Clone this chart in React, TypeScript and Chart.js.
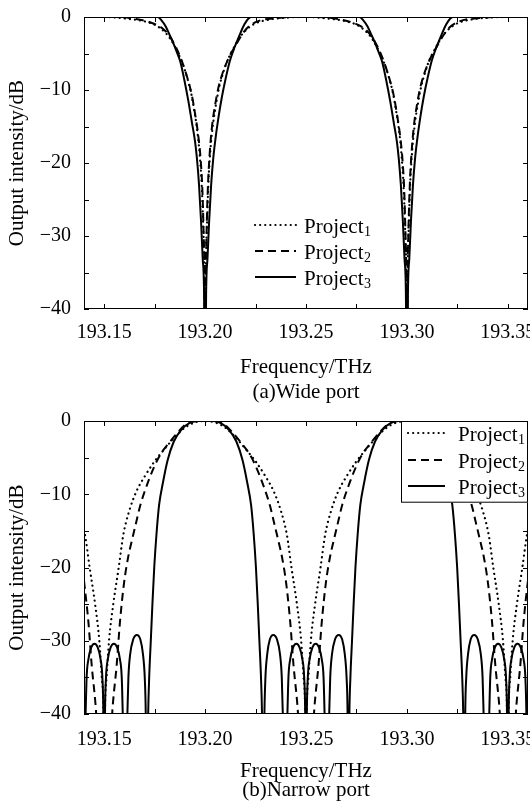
import { useEffect, useRef } from 'react';
import { Chart, registerables } from 'chart.js';

Chart.register(...registerables);

const FONT = "'Liberation Serif', 'Times New Roman', Times, serif";
Chart.defaults.font.family = FONT;
Chart.defaults.color = '#000';

type Pt = [number, number];

// ---------- axes ----------
const X_MIN = 193.14;
const X_MAX = 193.36;
const X_TICKS = [193.15, 193.175, 193.2, 193.225, 193.25, 193.275, 193.3, 193.325, 193.35];
const X_TICK_LABELS = ['193.15', '', '193.20', '', '193.25', '', '193.30', '', '193.35'];
const Y_TICKS = [-40, -35, -30, -25, -20, -15, -10, -5, 0];
const Y_TICK_LABELS = ['\u221240', '', '\u221230', '', '\u221220', '', '\u221210', '', '0'];
const SERIES_LABELS = ['Project1', 'Project2', 'Project3'];

// ---------- (a) Wide port ----------
const wideP1: Pt[] = [
  [193.14, 0], [193.15, 0], [193.16, -0.2], [193.17, -0.6], [193.176, -1.2], [193.1805, -2.2], [193.1835, -3.3],
  [193.1865, -4.9], [193.189, -6.5], [193.191, -8.2], [193.193, -10.3], [193.1945, -12.6], [193.196, -15.3],
  [193.1973, -18.8], [193.1984, -23.5], [193.1991, -29], [193.1996, -35], [193.2, -55], [193.2004, -35],
  [193.2009, -29], [193.2016, -23], [193.2027, -18], [193.204, -14.5], [193.2055, -11.8], [193.207, -9.6],
  [193.209, -7.6], [193.211, -6], [193.2135, -4.6], [193.2165, -3.1], [193.2195, -2], [193.224, -1],
  [193.23, -0.45], [193.24, -0.1], [193.25, 0],
  [193.26, -0.2], [193.27, -0.6], [193.276, -1.2], [193.2805, -2.2], [193.2835, -3.3],
  [193.2865, -4.9], [193.289, -6.5], [193.291, -8.2], [193.293, -10.3], [193.2945, -12.6], [193.296, -15.3],
  [193.2973, -18.8], [193.2984, -23.5], [193.2991, -29], [193.2996, -35], [193.3, -55], [193.3004, -35],
  [193.3009, -29], [193.3016, -23], [193.3027, -18], [193.304, -14.5], [193.3055, -11.8], [193.307, -9.6],
  [193.309, -7.6], [193.311, -6], [193.3135, -4.6], [193.3165, -3.1], [193.3195, -2], [193.324, -1],
  [193.33, -0.45], [193.34, -0.1], [193.35, 0], [193.36, 0],
];

const wideP2: Pt[] = [
  [193.14, 0], [193.155, 0], [193.164, -0.2], [193.174, -0.85], [193.1795, -1.7], [193.1826, -2.7],
  [193.1855, -4.1], [193.1876, -5.4], [193.1897, -7], [193.1917, -8.8], [193.1935, -10.8], [193.195, -13.2],
  [193.1965, -16], [193.1978, -19.5], [193.1987, -24], [193.1993, -30], [193.1997, -36], [193.2, -55],
  [193.2003, -36], [193.2007, -30], [193.2013, -24], [193.2022, -19], [193.2035, -14.8], [193.205, -12],
  [193.2065, -9.8], [193.2083, -8], [193.2103, -6.5], [193.2124, -5.2], [193.2145, -4.2], [193.2174, -2.8],
  [193.2205, -1.6], [193.226, -0.6], [193.236, -0.15], [193.245, 0],
  [193.255, 0], [193.264, -0.2], [193.274, -0.85], [193.2795, -1.7], [193.2826, -2.7],
  [193.2855, -4.1], [193.2876, -5.4], [193.2897, -7], [193.2917, -8.8], [193.2935, -10.8], [193.295, -13.2],
  [193.2965, -16], [193.2978, -19.5], [193.2987, -24], [193.2993, -30], [193.2997, -36], [193.3, -55],
  [193.3003, -36], [193.3007, -30], [193.3013, -24], [193.3022, -19], [193.3035, -14.8], [193.305, -12],
  [193.3065, -9.8], [193.3083, -8], [193.3103, -6.5], [193.3124, -5.2], [193.3145, -4.2], [193.3174, -2.8],
  [193.3205, -1.6], [193.326, -0.6], [193.336, -0.15], [193.345, 0], [193.36, 0],
];

const wideP3: Pt[] = [
  [193.14, 0], [193.1765, 0], [193.1785, -0.5], [193.1805, -1.3], [193.1825, -2.5], [193.1843, -3.6],
  [193.186, -4.8], [193.1877, -6.1], [193.1897, -8.6], [193.1917, -11.5], [193.1935, -14.5], [193.195, -17],
  [193.196, -19.5], [193.197, -23], [193.198, -28], [193.1988, -33], [193.1995, -38], [193.2, -55],
  [193.2005, -38], [193.2012, -33], [193.202, -28], [193.203, -23], [193.204, -19.5], [193.205, -17],
  [193.2065, -14], [193.2083, -11], [193.2103, -8.3], [193.2123, -6], [193.214, -4.6], [193.2157, -3.4],
  [193.2175, -2.2], [193.2195, -1], [193.2215, -0.2], [193.223, 0],
  [193.2765, 0], [193.2785, -0.5], [193.2805, -1.3], [193.2825, -2.5], [193.2843, -3.6],
  [193.286, -4.8], [193.2877, -6.1], [193.2897, -8.6], [193.2917, -11.5], [193.2935, -14.5], [193.295, -17],
  [193.296, -19.5], [193.297, -23], [193.298, -28], [193.2988, -33], [193.2995, -38], [193.3, -55],
  [193.3005, -38], [193.3012, -33], [193.302, -28], [193.303, -23], [193.304, -19.5], [193.305, -17],
  [193.3065, -14], [193.3083, -11], [193.3103, -8.3], [193.3123, -6], [193.314, -4.6], [193.3157, -3.4],
  [193.3175, -2.2], [193.3195, -1], [193.3215, -0.2], [193.323, 0], [193.36, 0],
];

// ---------- (b) Narrow port ----------
const narrowP1: Pt[] = [
  [193.14, -14.9], [193.1405, -15.5], [193.1428, -20], [193.1455, -25], [193.1476, -30], [193.1488, -35],
  [193.1496, -40], [193.15, -55], [193.1504, -40], [193.1512, -35], [193.1524, -30], [193.1545, -25],
  [193.1572, -20], [193.1595, -15.5], [193.1625, -12.2], [193.166, -9.6], [193.17, -7.6], [193.175, -5.5],
  [193.18, -3.8], [193.185, -2.2], [193.19, -0.9], [193.195, -0.2], [193.2, 0], [193.205, -0.2],
  [193.21, -0.9], [193.215, -2.2], [193.22, -3.8], [193.225, -5.5], [193.23, -7.6], [193.234, -9.6],
  [193.2375, -12.2], [193.2405, -15.5], [193.2428, -20], [193.2455, -25], [193.2476, -30], [193.2488, -35],
  [193.2496, -40], [193.25, -55], [193.2504, -40], [193.2512, -35], [193.2524, -30], [193.2545, -25],
  [193.2572, -20], [193.2595, -15.5], [193.2625, -12.2], [193.266, -9.6], [193.27, -7.6], [193.275, -5.5],
  [193.28, -3.8], [193.285, -2.2], [193.29, -0.9], [193.295, -0.2], [193.3, 0], [193.305, -0.2],
  [193.31, -0.9], [193.315, -2.2], [193.32, -3.8], [193.325, -5.5], [193.33, -7.6], [193.334, -9.6],
  [193.3375, -12.2], [193.3405, -15.5], [193.3428, -20], [193.3455, -25], [193.3476, -30], [193.3488, -35],
  [193.3496, -40], [193.35, -55], [193.3504, -40], [193.3512, -35], [193.3524, -30], [193.3545, -25],
  [193.3572, -20], [193.3595, -15.5], [193.36, -14.9],
];

const narrowP2: Pt[] = [
  [193.14, -21.8], [193.1422, -27.5], [193.1438, -33.3], [193.1458, -39], [193.1465, -42], [193.15, -55],
  [193.1535, -42], [193.1542, -39], [193.1562, -33.3], [193.1578, -27.5], [193.1598, -22.2], [193.1618, -18.7],
  [193.164, -16], [193.1659, -13.8], [193.1678, -11.6], [193.1706, -9.2], [193.1747, -6.3], [193.178, -4.5],
  [193.1821, -3], [193.1863, -1.6], [193.1912, -0.3], [193.196, 0], [193.204, 0], [193.2088, -0.3],
  [193.2137, -1.6], [193.2179, -3], [193.222, -4.5], [193.2253, -6.3], [193.2294, -9.2], [193.2322, -11.6],
  [193.2341, -13.8], [193.236, -16], [193.2382, -18.7], [193.2402, -22.2], [193.2422, -27.5], [193.2438, -33.3],
  [193.2458, -39], [193.2465, -42], [193.25, -55], [193.2535, -42], [193.2542, -39], [193.2562, -33.3],
  [193.2578, -27.5], [193.2598, -22.2], [193.2618, -18.7], [193.264, -16], [193.2659, -13.8], [193.2678, -11.6],
  [193.2706, -9.2], [193.2747, -6.3], [193.278, -4.5], [193.2821, -3], [193.2863, -1.6], [193.2912, -0.3],
  [193.296, 0], [193.304, 0], [193.3088, -0.3], [193.3137, -1.6], [193.3179, -3], [193.322, -4.5],
  [193.3253, -6.3], [193.3294, -9.2], [193.3322, -11.6], [193.3341, -13.8], [193.336, -16], [193.3382, -18.7],
  [193.3402, -22.2], [193.3422, -27.5], [193.3438, -33.3], [193.3458, -39], [193.3465, -42], [193.35, -55],
  [193.3535, -42], [193.3542, -39], [193.3562, -33.3], [193.3578, -27.5], [193.3598, -22.2], [193.36, -21.8],
];

const narrowP3: Pt[] = [
  [193.14, -50],
  [193.1408, -40], [193.1413, -35], [193.1422, -32.5], [193.1436, -30.9], [193.1452, -30.4], [193.1468, -30.9],
  [193.1482, -32.5], [193.1491, -35], [193.1496, -40], [193.15, -55],
  [193.1504, -40], [193.1509, -35], [193.1518, -32.5], [193.1532, -30.9], [193.1548, -30.4], [193.1564, -30.9],
  [193.1578, -32.5], [193.1587, -35], [193.1592, -40], [193.1603, -55],
  [193.1615, -40], [193.162, -35], [193.1629, -31.8], [193.1644, -29.8], [193.1662, -29.2], [193.1679, -29.8],
  [193.1692, -31.8], [193.1701, -35], [193.1706, -40], [193.1711, -55],
  [193.1718, -40], [193.1723, -35], [193.1731, -30], [193.1739, -25], [193.1748, -20], [193.1759, -15.5],
  [193.1772, -11.5], [193.1792, -8.3], [193.1814, -5.4], [193.1845, -2.8], [193.1882, -1.2], [193.1922, -0.3],
  [193.196, 0], [193.204, 0], [193.2078, -0.3], [193.2118, -1.2], [193.2155, -2.8], [193.2186, -5.4],
  [193.2208, -8.3], [193.2228, -11.5], [193.2241, -15.5], [193.2252, -20], [193.2261, -25], [193.2269, -30],
  [193.2277, -35], [193.2282, -40], [193.2288, -55],
  [193.2294, -40], [193.2299, -35], [193.2308, -31.8], [193.2321, -29.8], [193.2338, -29.2], [193.2356, -29.8],
  [193.2371, -31.8], [193.238, -35], [193.2385, -40], [193.2397, -55],
  [193.2408, -40], [193.2413, -35], [193.2422, -32.5], [193.2436, -30.9], [193.2452, -30.4], [193.2468, -30.9],
  [193.2482, -32.5], [193.2491, -35], [193.2496, -40], [193.25, -55],
  [193.2504, -40], [193.2509, -35], [193.2518, -32.5], [193.2532, -30.9], [193.2548, -30.4], [193.2564, -30.9],
  [193.2578, -32.5], [193.2587, -35], [193.2592, -40], [193.2603, -55],
  [193.2615, -40], [193.262, -35], [193.2629, -31.8], [193.2644, -29.8], [193.2662, -29.2], [193.2679, -29.8],
  [193.2692, -31.8], [193.2701, -35], [193.2706, -40], [193.271, -55],
  [193.2715, -40], [193.272, -35], [193.2728, -30], [193.2736, -25], [193.2745, -20], [193.2756, -15.5],
  [193.2769, -11.5], [193.2789, -8.3], [193.2811, -5.4], [193.2842, -2.8], [193.2879, -1.2], [193.2919, -0.3],
  [193.2957, 0], [193.3037, 0], [193.3075, -0.3], [193.3115, -1.2], [193.3152, -2.8], [193.3183, -5.4],
  [193.3205, -8.3], [193.3225, -11.5], [193.3238, -15.5], [193.3249, -20], [193.3258, -25], [193.3266, -30],
  [193.3274, -35], [193.3279, -40], [193.3285, -55],
  [193.3289, -40], [193.3294, -35], [193.3303, -31.8], [193.3316, -29.8], [193.3333, -29.2], [193.3351, -29.8],
  [193.3366, -31.8], [193.3375, -35], [193.338, -40], [193.3394, -55],
  [193.3408, -40], [193.3413, -35], [193.3422, -32.5], [193.3436, -30.9], [193.3452, -30.4], [193.3468, -30.9],
  [193.3482, -32.5], [193.3491, -35], [193.3496, -40], [193.35, -55],
  [193.3504, -40], [193.3509, -35], [193.3518, -32.5], [193.3532, -30.9], [193.3548, -30.4], [193.3564, -30.9],
  [193.3578, -32.5], [193.3587, -35], [193.3592, -40], [193.3598, -55],
];

// ---------- styles ----------
const LINE_STYLES = [
  { borderDash: [0.1, 5], borderCapStyle: 'round', borderWidth: 2.2 },
  { borderDash: [8, 5], borderCapStyle: 'butt', borderWidth: 2 },
  { borderDash: [] as number[], borderCapStyle: 'butt', borderWidth: 2 },
];

const framePlugin = {
  id: 'frame',
  afterDatasetsDraw(chart: any) {
    const { ctx, chartArea } = chart;
    const { left, right, top, bottom } = chartArea;
    const xs = chart.scales.x;
    const ys = chart.scales.y;
    ctx.save();
    ctx.setLineDash([]);
    ctx.strokeStyle = '#000';
    ctx.lineWidth = 1;
    ctx.strokeRect(left + 0.5, top + 0.5, right - left - 1, bottom - top - 1);
    const L = 5;
    ctx.beginPath();
    xs.ticks.forEach((t: any) => {
      const px = Math.round(xs.getPixelForValue(t.value)) + 0.5;
      ctx.moveTo(px, bottom);
      ctx.lineTo(px, bottom - L);
      ctx.moveTo(px, top);
      ctx.lineTo(px, top + L);
    });
    ys.ticks.forEach((t: any) => {
      const py = Math.round(ys.getPixelForValue(t.value)) + 0.5;
      ctx.moveTo(left, py);
      ctx.lineTo(left + L, py);
      ctx.moveTo(right, py);
      ctx.lineTo(right - L, py);
    });
    ctx.stroke();
    ctx.restore();
  },
};

const legendPlugin = {
  id: 'projLegend',
  afterDraw(chart: any, _args: unknown, opts: any) {
    const { ctx, chartArea } = chart;
    ctx.save();
    if (opts.boxed) {
      const x0 = opts.boxLeft;
      const y0 = chartArea.top;
      const x1 = chartArea.right;
      const y1 = opts.boxBottom;
      ctx.fillStyle = '#fff';
      ctx.fillRect(x0, y0, x1 - x0, y1 - y0);
      ctx.setLineDash([]);
      ctx.strokeStyle = '#000';
      ctx.lineWidth = 1;
      ctx.strokeRect(x0 + 0.5, y0 + 0.5, x1 - x0 - 1, y1 - y0 - 1);
    }
    chart.data.datasets.forEach((ds: any, i: number) => {
      const y = opts.rows[i];
      ctx.beginPath();
      ctx.setLineDash(ds.borderDash || []);
      ctx.lineCap = ds.borderCapStyle || 'butt';
      ctx.lineWidth = ds.borderWidth;
      ctx.strokeStyle = '#000';
      ctx.moveTo(opts.sampleX, y);
      ctx.lineTo(opts.sampleX + opts.sampleLen, y);
      ctx.stroke();
      const label = String(ds.label);
      const main = label.slice(0, -1);
      const sub = label.slice(-1);
      ctx.setLineDash([]);
      ctx.fillStyle = '#000';
      ctx.textAlign = 'left';
      ctx.textBaseline = 'alphabetic';
      ctx.font = `21px ${FONT}`;
      ctx.fillText(main, opts.textX, y + 7.5);
      const w = ctx.measureText(main).width;
      ctx.font = `14px ${FONT}`;
      ctx.fillText(sub, opts.textX + w + 0.5, y + 11);
    });
    ctx.restore();
  },
};

interface Spec {
  series: Pt[][];
  caption: string;
  padTop: number;
  padBottom: number;
  tickPad: number;
  titlePadTop: number;
  captionPadTop: number;
  captionLineHeight: number;
  legend: any;
}

const WIDE: Spec = {
  series: [wideP1, wideP2, wideP3],
  caption: '(a)Wide port',
  padTop: 17,
  padBottom: 0.5,
  tickPad: 4,
  titlePadTop: 8,
  captionPadTop: 3.5,
  captionLineHeight: 1,
  legend: { boxed: false, sampleX: 255, sampleLen: 41, textX: 304, rows: [225, 251, 277] },
};

const NARROW: Spec = {
  series: [narrowP1, narrowP2, narrowP3],
  caption: '(b)Narrow port',
  padTop: 18,
  padBottom: 6.65,
  tickPad: 6,
  titlePadTop: 2.5,
  captionPadTop: 0,
  captionLineHeight: 0.85,
  legend: { boxed: true, boxLeft: 401, boxBottom: 99.7, sampleX: 408, sampleLen: 37, textX: 458, rows: [30, 57, 83] },
};

function makeConfig(s: Spec): any {
  const datasets = s.series.map((pts, i) => ({
    label: SERIES_LABELS[i],
    data: pts.map(([x, y]) => ({ x, y })),
    borderColor: '#000',
    backgroundColor: '#000',
    ...LINE_STYLES[i],
  }));
  return {
    type: 'line',
    data: { datasets },
    options: {
      responsive: false,
      animation: false,
      devicePixelRatio: 1,
      events: [],
      layout: { padding: { top: s.padTop, bottom: s.padBottom, left: 0, right: 2 } },
      elements: {
        point: { radius: 0 },
        line: { cubicInterpolationMode: 'monotone', fill: false, borderJoinStyle: 'round' },
      },
      plugins: {
        legend: { display: false },
        tooltip: { enabled: false },
        title: {
          display: true,
          position: 'bottom',
          fullSize: false,
          text: s.caption,
          color: '#000',
          font: { size: 21, weight: 'normal', lineHeight: s.captionLineHeight },
          padding: { top: s.captionPadTop, bottom: 0 },
        },
        projLegend: s.legend,
      },
      scales: {
        x: {
          type: 'linear',
          min: X_MIN,
          max: X_MAX,
          afterBuildTicks: (axis: any) => {
            axis.ticks = X_TICKS.map((v) => ({ value: v }));
          },
          afterFit: (axis: any) => {
            axis.paddingLeft = 0;
            axis.paddingRight = 0;
          },
          grid: { display: false },
          border: { display: false },
          ticks: {
            autoSkip: false,
            maxRotation: 0,
            minRotation: 0,
            padding: s.tickPad,
            color: '#000',
            font: { size: 20 },
            callback: (_v: any, i: number) => X_TICK_LABELS[i] ?? '',
          },
          title: {
            display: true,
            text: 'Frequency/THz',
            color: '#000',
            font: { size: 21, lineHeight: 1 },
            padding: { top: s.titlePadTop, bottom: 0 },
          },
        },
        y: {
          type: 'linear',
          min: -40,
          max: 0,
          afterBuildTicks: (axis: any) => {
            axis.ticks = Y_TICKS.map((v) => ({ value: v }));
          },
          afterFit: (axis: any) => {
            axis.width = 84;
          },
          grid: { display: false },
          border: { display: false },
          ticks: {
            autoSkip: false,
            padding: 5,
            color: '#000',
            font: { size: 20 },
            callback: (_v: any, i: number) => Y_TICK_LABELS[i] ?? '',
          },
          title: {
            display: true,
            text: 'Output intensity/dB',
            color: '#000',
            font: { size: 21, lineHeight: 1 },
            padding: { top: 7, bottom: 0 },
          },
        },
      },
    },
    plugins: [framePlugin, legendPlugin],
  };
}

function PortChart({ spec, top }: { spec: Spec; top: number }) {
  const ref = useRef<HTMLCanvasElement>(null);
  useEffect(() => {
    if (!ref.current) return;
    const chart = new Chart(ref.current, makeConfig(spec));
    return () => chart.destroy();
  }, [spec]);
  return (
    <canvas
      ref={ref}
      width={530}
      height={403}
      style={{ position: 'absolute', left: 0, top, width: 530, height: 403, display: 'block' }}
    />
  );
}

export default function App() {
  return (
    <div style={{ position: 'absolute', left: 0, top: 0, width: 530, height: 806, background: '#fff' }}>
      <PortChart spec={WIDE} top={0} />
      <PortChart spec={NARROW} top={403} />
    </div>
  );
}
